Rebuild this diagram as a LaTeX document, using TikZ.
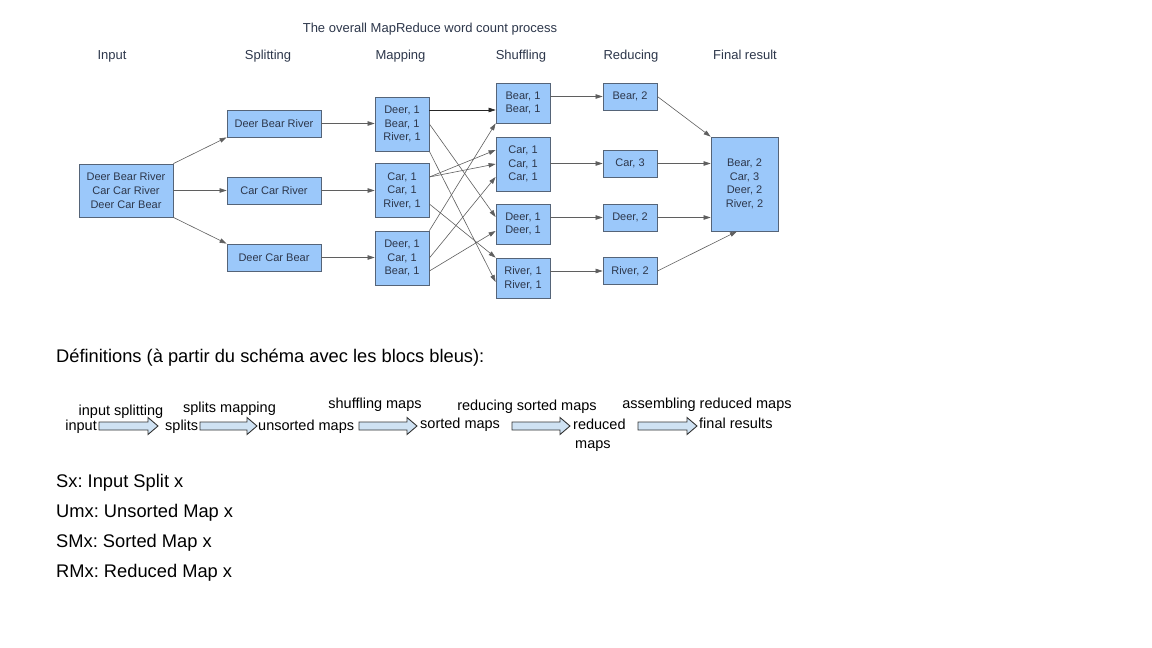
\documentclass[tikz,border=0pt]{standalone}
\usepackage{fontspec}
\setmainfont{Liberation Sans}
\usetikzlibrary{arrows.meta,calc}
\definecolor{boxfill}{RGB}{155,200,250}
\definecolor{boxdraw}{RGB}{85,100,120}
\definecolor{boxtext}{RGB}{45,55,75}
\definecolor{arrowfill}{RGB}{207,226,243}
\definecolor{linegray}{RGB}{95,95,95}
\newcommand{\fatarr}[3]{\draw[fat] (#1,#3-4) -- (#2-10,#3-4) -- (#2-10,#3-8.5) -- (#2,#3) -- (#2-10,#3+8.5) -- (#2-10,#3+4) -- (#1,#3+4) -- cycle;}
\frenchspacing
\begin{document}
\begin{tikzpicture}[x=1pt,y=-1pt,
 box/.style={draw=boxdraw, fill=boxfill, line width=0.8pt, inner sep=0pt, align=center, text=boxtext, font=\fontsize{11}{13.6}\selectfont},
 conn/.style={draw=linegray, line width=0.6pt, -{Triangle[length=7pt,width=4.5pt]}},
 hdr/.style={font=\fontsize{13}{15}\selectfont, text=boxtext, anchor=base, inner sep=0pt},
 lbl/.style={font=\fontsize{14.5}{16}\selectfont, inner sep=0pt},
 fat/.style={draw=black!80, fill=arrowfill, line width=0.9pt},
 deftext/.style={font=\fontsize{18.3}{21}\selectfont, anchor=base west, inner sep=0pt}]

\useasboundingbox[fill=white] (0,0) rectangle (1152,648);

% title and headers
\node[hdr] (title) at (430,32) {The overall MapReduce word count process};
\node[hdr] (hin) at (112,59) {Input};
\node[hdr] (hsp) at (268,59) {Splitting};
\node[hdr] (hma) at (400.5,59) {Mapping};
\node[hdr] (hsh) at (521,59) {Shuffling};
\node[hdr] (hre) at (631,59) {Reducing};
\node[hdr] (hfi) at (745,59) {Final result};

% boxes
\node[box, minimum width=94, minimum height=53] (in) at (126,190.5) {Deer Bear River\\Car Car River\\Deer Car Bear};

\node[box, minimum width=94, minimum height=27] (sp1) at (274,123.5) {Deer Bear River};
\node[box, minimum width=94, minimum height=27] (sp2) at (274,190.5) {Car Car River};
\node[box, minimum width=94, minimum height=27] (sp3) at (274,257.5) {Deer Car Bear};

\node[box, minimum width=54, minimum height=54] (m1) at (402,124) {Deer, 1\\Bear, 1\\River, 1};
\node[box, minimum width=54, minimum height=54] (m2) at (402,190.5) {Car, 1\\Car, 1\\River, 1};
\node[box, minimum width=54, minimum height=54] (m3) at (402,258) {Deer, 1\\Car, 1\\Bear, 1};

\node[box, minimum width=54, minimum height=40] (s1) at (523,103) {Bear, 1\\Bear, 1};
\node[box, minimum width=54, minimum height=54] (s2) at (523,164) {Car, 1\\Car, 1\\Car, 1};
\node[box, minimum width=54, minimum height=40] (s3) at (523,224) {Deer, 1\\Deer, 1};
\node[box, minimum width=54, minimum height=40] (s4) at (523,278) {River, 1\\River, 1};

\node[box, minimum width=54, minimum height=27] (r1) at (630,96.5) {Bear, 2};
\node[box, minimum width=54, minimum height=27] (r2) at (630,163.5) {Car, 3};
\node[box, minimum width=54, minimum height=27] (r3) at (630,217.5) {Deer, 2};
\node[box, minimum width=54, minimum height=27] (r4) at (630,271) {River, 2};

\node[box, minimum width=67, minimum height=94] (f) at (744.5,184) {Bear, 2\\Car, 3\\Deer, 2\\River, 2};

% input -> splits
\draw[conn] (in.north east) -- (sp1.south west);
\draw[conn] (in.east) -- (sp2.west);
\draw[conn] (in.south east) -- (sp3.north west);
% splits -> maps
\draw[conn] (sp1.east) -- (sp1.east -| m1.west);
\draw[conn] (sp2.east) -- (sp2.east -| m2.west);
\draw[conn] (sp3.east) -- (sp3.east -| m3.west);
% maps -> shuffle
\draw[conn, draw=black!85] ([yshift=14]m1.east) -- ([yshift=-7]s1.west);
\draw[conn] (m1.east) -- ([yshift=7]s3.west);
\draw[conn] (m1.south east) -- ([yshift=-4]s4.west);
\draw[conn] ([yshift=13.5]m2.east) -- ([yshift=14]s2.west);
\draw[conn] ([yshift=13.5]m2.east) -- (s2.west);
\draw[conn] ([yshift=-13.5]m2.east) -- (s4.north west);
\draw[conn] (m3.north east) -- (s1.south west);
\draw[conn] (m3.east) -- ([yshift=-13]s2.west);
\draw[conn] ([yshift=-13]m3.east) -- ([yshift=-7]s3.west);
% shuffle -> reduce
\draw[conn] (s1.east |- r1.west) -- (r1.west);
\draw[conn] (s2.east |- r2.west) -- (r2.west);
\draw[conn] (s3.east |- r3.west) -- (r3.west);
\draw[conn] (s4.east |- r4.west) -- (r4.west);
% reduce -> final
\draw[conn] (r1.east) -- (f.north west);
\draw[conn] (r2.east) -- (f.west |- r2.east);
\draw[conn] (r3.east) -- (f.west |- r3.east);
\draw[conn] (r4.east) -- ([xshift=-7.5]f.south);

% definitions
\node[deftext] (def) at (56,362) {Définitions (à partir du schéma avec les blocs bleus):};

\node[lbl, anchor=base east] (t1) at (97,430) {input};
\node[lbl, anchor=base west] (t2) at (165,430) {splits};
\node[lbl, anchor=base west] (t3) at (258,430) {unsorted maps};
\node[lbl, anchor=base west] (t4) at (420,428) {sorted maps};
\node[lbl, anchor=base west] (t5) at (573,429) {reduced};
\node[lbl, anchor=base west] (t5b) at (575,448) {maps};
\node[lbl, anchor=base west] (t6) at (699,428) {final results};

\node[lbl, anchor=base] (l1) at (121,415) {input splitting};
\node[lbl, anchor=base] (l2) at (229.5,412) {splits mapping};
\node[lbl, anchor=base] (l3) at (375,408) {shuffling maps};
\node[lbl, anchor=base] (l4) at (527,410) {reducing sorted maps};
\node[lbl, anchor=base] (l5) at (707,408) {assembling reduced maps};

\fatarr{99}{158}{426}
\fatarr{200}{257}{426}
\fatarr{359}{417}{426}
\fatarr{512}{570}{426}
\fatarr{638}{697}{426}

\node[deftext] (d1) at (56,487) {Sx: Input Split x};
\node[deftext] (d2) at (56,517) {Umx: Unsorted Map x};
\node[deftext] (d3) at (56,547) {SMx: Sorted Map x};
\node[deftext] (d4) at (56,577) {RMx: Reduced Map x};
\end{tikzpicture}
\end{document}
